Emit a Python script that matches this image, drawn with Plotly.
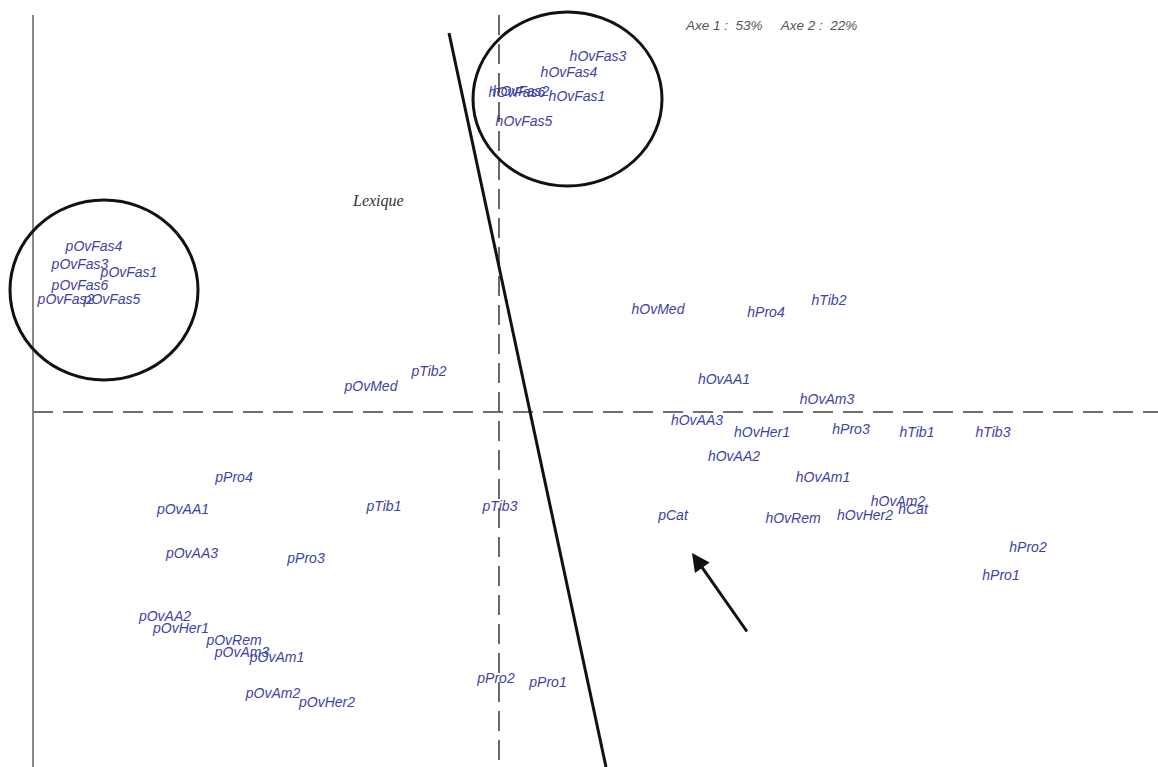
import plotly.graph_objects as go

# Factor-plane coordinates of the modalities (axis 1 horizontal, axis 2 vertical)
labels = [
    "hOvFas3", "hOvFas4", "hOvFas6", "hOvFas2", "hOvFas1", "hOvFas5",
    "pOvFas4", "pOvFas3", "pOvFas1", "pOvFas6", "pOvFas2", "pOvFas5",
    "hOvMed", "hPro4", "hTib2", "pTib2", "pOvMed",
    "hOvAA1", "hOvAm3", "hOvAA3", "hOvHer1", "hPro3", "hTib1", "hTib3",
    "hOvAA2", "hOvAm1", "hOvAm2", "hCat", "hOvHer2", "hOvRem", "pCat",
    "hPro2", "hPro1",
    "pPro4", "pOvAA1", "pTib1", "pTib3", "pOvAA3", "pPro3",
    "pOvAA2", "pOvHer1", "pOvRem", "pOvAm3", "pOvAm1", "pOvAm2", "pOvHer2",
    "pPro2", "pPro1",
]
axis1 = [
    0.99, 0.70, 0.18, 0.22, 0.78, 0.25,
    -4.05, -4.19, -3.70, -4.19, -4.33, -3.87,
    1.59, 2.67, 3.30, -0.70, -1.28,
    2.25, 3.28, 1.98, 2.63, 3.52, 4.18, 4.94,
    2.35, 3.24, 3.99, 4.14, 3.66, 2.94, 1.74,
    5.29, 5.02,
    -2.65, -3.16, -1.15, 0.01, -3.07, -1.93,
    -3.34, -3.18, -2.65, -2.57, -2.22, -2.26, -1.72,
    -0.03, 0.49,
]
axis2 = [
    3.55, 3.39, 3.19, 3.20, 3.15, 2.90,
    1.65, 1.47, 1.39, 1.26, 1.12, 1.12,
    1.02, 0.99, 1.11, 0.40, 0.25,
    0.32, 0.12, -0.09, -0.21, -0.18, -0.21, -0.21,
    -0.45, -0.66, -0.90, -0.98, -1.04, -1.07, -1.04,
    -1.36, -1.64,
    -0.66, -0.98, -0.95, -0.95, -1.42, -1.47,
    -2.05, -2.17, -2.29, -2.41, -2.46, -2.82, -2.91,
    -2.67, -2.71,
]

inertia_text = "Axe 1 :  53%     Axe 2 :  22%"

x_range = [-4.99, 6.59]
y_range = [-3.55, 4.12]

fig = go.Figure()

fig.add_trace(go.Scatter(
    x=axis1, y=axis2, text=labels, mode="text",
    textposition="middle center",
    textfont=dict(family="Liberation Sans, Arial, sans-serif", size=14,
                  color="#3d42a6", style="italic"),
    hoverinfo="text", showlegend=False,
))

shapes = [
    # left frame line
    dict(type="line", x0=-4.66, x1=-4.66, y0=3.97, y1=y_range[0],
         line=dict(color="#8a8a8a", width=2)),
    # axis 1 (dashed)
    dict(type="line", x0=-4.66, x1=x_range[1], y0=0, y1=0,
         line=dict(color="#707070", width=2, dash="20px,10px")),
    # axis 2 (dashed)
    dict(type="line", x0=0, x1=0, y0=3.97, y1=y_range[0],
         line=dict(color="#3a3a3a", width=1.5, dash="20px,9px")),
    # separating line
    dict(type="line", x0=-0.50, y0=3.79, x1=1.07, y1=y_range[0],
         line=dict(color="#111111", width=3)),
    # groupings
    dict(type="circle", x0=-0.26, x1=1.63, y0=2.26, y1=4.00,
         line=dict(color="#111111", width=3)),
    dict(type="circle", x0=-4.89, x1=-3.01, y0=0.32, y1=2.12,
         line=dict(color="#111111", width=3)),
]

annotations = [
    dict(x=1.93, y=-1.41, ax=2.49, ay=-2.21, xref="x", yref="y",
         axref="x", ayref="y", text="", showarrow=True,
         arrowhead=2, arrowsize=1.2, arrowwidth=3, arrowcolor="#111111"),
    dict(x=-1.21, y=2.11, xref="x", yref="y", text="Lexique", showarrow=False,
         font=dict(family="Liberation Serif, Times New Roman, serif", size=16,
                   color="#333333", style="italic")),
    dict(x=2.72, y=3.87, xref="x", yref="y", text=inertia_text, showarrow=False,
         font=dict(family="Liberation Sans, Arial, sans-serif", size=13.5,
                   color="#555555", style="italic")),
]

fig.update_layout(
    width=1158, height=767,
    margin=dict(l=0, r=0, t=0, b=0),
    paper_bgcolor="white", plot_bgcolor="white",
    shapes=shapes, annotations=annotations,
    xaxis=dict(range=x_range, visible=False, fixedrange=True),
    yaxis=dict(range=y_range, visible=False, fixedrange=True),
)

fig.write_html("out.html")
